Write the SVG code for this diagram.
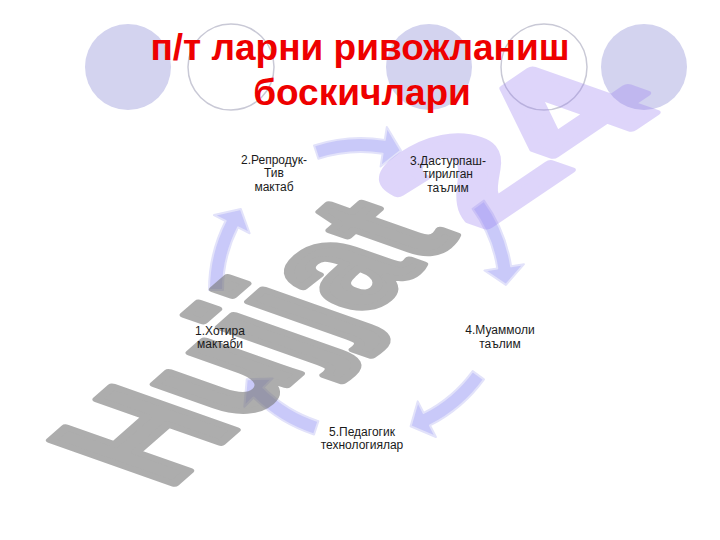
<svg xmlns="http://www.w3.org/2000/svg" xmlns:xlink="http://www.w3.org/1999/xlink" width="720" height="540" viewBox="0 0 720 540">
<style>
.bgf{fill:#d3d3ef;stroke:none}
.bgo{fill:none;stroke:#c9c9d6;stroke-width:1.5}
.arw{fill:#c9c9f9;stroke:#e2e2fa;stroke-width:2;stroke-linejoin:round}
.lbl{font-family:"Liberation Sans",Arial,sans-serif;font-size:12px;fill:#1a1a1a;text-anchor:middle}
.ttl{font-family:"Liberation Sans",Arial,sans-serif;font-size:37px;font-weight:bold;fill:#ee0000;text-anchor:middle}
.wm{font-family:"Liberation Sans",Arial,sans-serif;font-weight:bold;font-size:100px;stroke-width:5;stroke-linejoin:round}
</style>
<defs>
<path id="arc-arrow" d="M152,0 A152,152 0 0 1 135.43,69.01 L147.02,74.91 L120.21,81.08 L111.38,56.75 L122.96,62.65 A138,138 0 0 0 138,0 Z"/>
</defs>
<rect width="720" height="540" fill="#ffffff"/>
<g id="background">
<circle class="bgf" cx="128" cy="67" r="43"/>
<circle class="bgo" cx="231" cy="67" r="43"/>
<circle class="bgf" cx="429" cy="67" r="43"/>
<circle class="bgo" cx="544" cy="67" r="43"/>
<circle class="bgf" cx="644" cy="67" r="43"/>
</g>
<g id="connectors">
<use xlink:href="#arc-arrow" class="arw" transform="translate(361,290) rotate(-108)"/>
<use xlink:href="#arc-arrow" class="arw" transform="translate(361,290) rotate(-36)"/>
<use xlink:href="#arc-arrow" class="arw" transform="translate(361,290) rotate(36)"/>
<use xlink:href="#arc-arrow" class="arw" transform="translate(361,290) rotate(108)"/>
<use xlink:href="#arc-arrow" class="arw" transform="translate(361,290) rotate(180)"/>
</g>
<g id="watermark">
<g opacity="0.6"><text class="wm" fill="#777777" stroke="#777777" transform="matrix(1.05,-0.92,1.79,0.63,167,490)">Hujjat</text></g>
<g opacity="0.32"><text class="wm" fill="#9a7ff0" stroke="#9a7ff0" transform="matrix(1.7,-1.15,1.79,0.63,482,230)">24</text></g>
</g>
<g id="node1"><text class="lbl" x="220" y="335">1.Хотира</text><text class="lbl" x="220" y="348">мактаби</text></g>
<g id="node2"><text class="lbl" x="274" y="164">2.Репродук-</text><text class="lbl" x="274" y="177">Тив</text><text class="lbl" x="274" y="191">мактаб</text></g>
<g id="node3"><text class="lbl" x="448" y="165">3.Дастурпаш-</text><text class="lbl" x="448" y="178">тирилган</text><text class="lbl" x="448" y="192">таълим</text></g>
<g id="node4"><text class="lbl" x="500" y="334">4.Муаммоли</text><text class="lbl" x="500" y="348">таълим</text></g>
<g id="node5"><text class="lbl" x="362" y="436">5.Педагогик</text><text class="lbl" x="362" y="449">технологиялар</text></g>
<g id="title">
<text class="ttl" x="360" y="60">п/т ларни ривожланиш</text>
<text class="ttl" x="362" y="105">боскичлари</text>
</g>
</svg>
